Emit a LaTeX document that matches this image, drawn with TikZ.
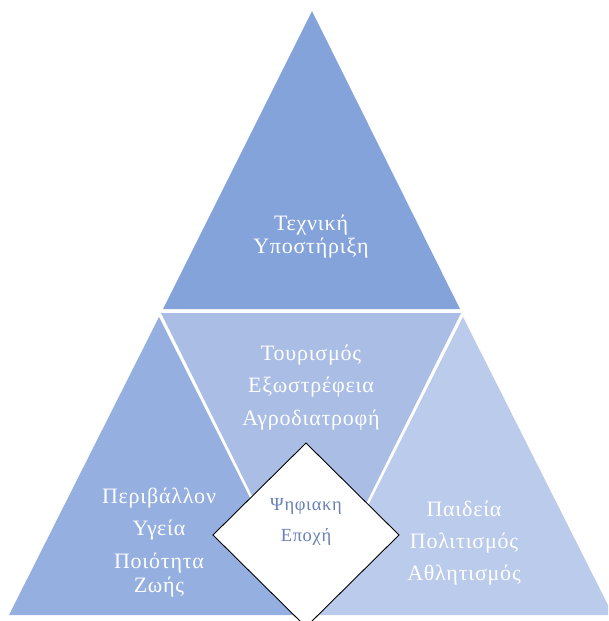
\documentclass[tikz,border=0pt]{standalone}
\usepackage{fontspec}
\setmainfont{Liberation Serif}[LetterSpace=3.5]
\definecolor{topc}{HTML}{84A3DB}
\definecolor{midc}{HTML}{A9BDE5}
\definecolor{leftc}{HTML}{94AFE0}
\definecolor{rightc}{HTML}{BACBEB}
\definecolor{dtext}{HTML}{6A80B8}
\begin{document}
\begin{tikzpicture}[x=1pt,y=-1pt,
  lbl/.style={text=white, font=\fontsize{22}{23}\selectfont, align=center, inner sep=0pt},
  dlbl/.style={text=dtext, font=\fontsize{18.5}{19}\selectfont, align=center, inner sep=0pt}]
\useasboundingbox (0,0) rectangle (608,621);
\begin{scope}
\clip (0,0) rectangle (608,621);
\fill[topc] (312,11) -- (163,309) -- (460,309) -- cycle;
\fill[midc] (161,313) -- (461,313) -- (311,614) -- cycle;
\fill[leftc] (159,317) -- (309,615) -- (9,615) -- cycle;
\fill[rightc] (463,317) -- (613,615) -- (313,615) -- cycle;
\draw[fill=white, line width=0.9pt] (306,443) -- (399,535) -- (306,627) -- (213,535) -- cycle;
\end{scope}
\node[lbl] (t1) at (311,225) {Τεχνική};
\node[lbl] (t2) at (311,248) {Υποστήριξη};
\node[lbl] (m1) at (311,355) {Τουρισμός};
\node[lbl] (m2) at (311,387) {Εξωστρέφεια};
\node[lbl] (m3) at (311,420) {Αγροδιατροφή};
\node[lbl] (l1) at (159,498) {Περιβάλλον};
\node[lbl] (l2) at (159,530) {Υγεία};
\node[lbl] (l3) at (159,563) {Ποιότητα};
\node[lbl] (l4) at (159,587) {Ζωής};
\node[lbl] (r1) at (464,509) {Παιδεία};
\node[lbl] (r2) at (464,543) {Πολιτισμός};
\node[lbl] (r3) at (464,575) {Αθλητισμός};
\node[dlbl] (d1) at (306,506) {Ψηφιακη};
\node[dlbl] (d2) at (306,537) {Εποχή};
\end{tikzpicture}
\end{document}
